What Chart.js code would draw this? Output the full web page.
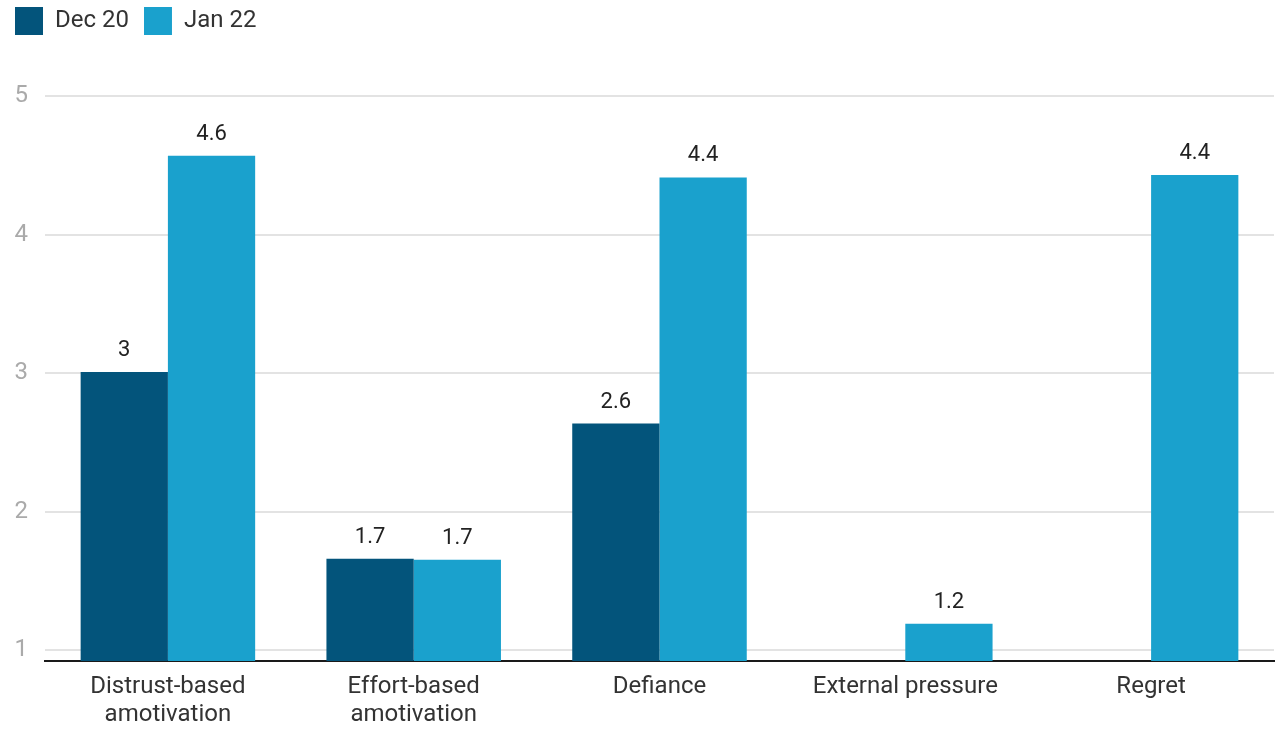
<!DOCTYPE html>
<html>
<head>
<meta charset="utf-8">
<script src="https://cdn.jsdelivr.net/npm/chart.js@4/dist/chart.umd.min.js"></script>
<style>
  html, body { margin: 0; padding: 0; background: #ffffff; }
  #wrap { width: 1279px; height: 730px; }
</style>
</head>
<body>
<div id="wrap"><canvas id="chart" width="1279" height="730"></canvas></div>
<script>
// Motivation factor scores by survey wave
const categories = [
  ['Distrust-based', 'amotivation'],
  ['Effort-based', 'amotivation'],
  'Defiance',
  'External pressure',
  'Regret'
];
const seriesNames = ['Dec 20', 'Jan 22'];
const dec20 = [3.007, 1.659, 2.635, null, null];
const jan22 = [4.568, 1.652, 4.412, 1.19, 4.429];
const yTicks = [1, 2, 3, 4, 5];

const colors = ['#03547b', '#1aa1cd'];
const fontFamily = 'Roboto, "Open Sans", sans-serif';

// Value labels above each bar, one decimal, trailing zero dropped
const valueLabels = {
  id: 'valueLabels',
  afterDatasetsDraw(chart) {
    const ctx = chart.ctx;
    ctx.save();
    ctx.font = '22px ' + fontFamily;
    ctx.fillStyle = '#222222';
    ctx.textAlign = 'center';
    ctx.textBaseline = 'alphabetic';
    chart.data.datasets.forEach((ds, i) => {
      const meta = chart.getDatasetMeta(i);
      meta.data.forEach((bar, j) => {
        const v = ds.data[j];
        if (v === null || v === undefined) return;
        const text = String(Number(v.toFixed(1)));
        ctx.fillText(text, bar.x, bar.y - 16);
      });
    });
    ctx.restore();
  }
};

// Extra room below the legend
const legendSpace = {
  id: 'legendSpace',
  beforeInit(chart) {
    const fit = chart.legend.fit;
    chart.legend.fit = function () {
      fit.bind(chart.legend)();
      this.height += 51;
    };
  }
};

new Chart(document.getElementById('chart'), {
  type: 'bar',
  data: {
    labels: categories,
    datasets: [
      { label: seriesNames[0], data: dec20, backgroundColor: colors[0], borderWidth: 0 },
      { label: seriesNames[1], data: jan22, backgroundColor: colors[1], borderWidth: 0 }
    ]
  },
  options: {
    responsive: false,
    animation: false,
    layout: { padding: { left: 0, right: 5, top: -8, bottom: 0 } },
    datasets: { bar: { categoryPercentage: 0.71, barPercentage: 1.0 } },
    plugins: {
      legend: {
        position: 'top',
        align: 'start',
        labels: {
          boxWidth: 28,
          boxHeight: 28,
          padding: 15,
          color: '#333333',
          font: { family: fontFamily, size: 24 }
        }
      },
      tooltip: { enabled: false }
    },
    scales: {
      x: {
        afterFit(scale) { scale.height = 69; },
        grid: { display: false },
        border: { display: true, color: '#1a1a1a', width: 2 },
        ticks: {
          color: '#333333',
          padding: 4,
          maxRotation: 0,
          autoSkip: false,
          font: { family: fontFamily, size: 24, lineHeight: 1.17 }
        }
      },
      y: {
        min: 0.921,
        max: 5,
        afterBuildTicks(scale) {
          scale.ticks = yTicks.map(v => ({ value: v }));
        },
        afterFit(scale) { scale.width = 45; },
        grid: { color: '#e3e3e3', lineWidth: 2, drawTicks: false },
        border: { display: false },
        ticks: {
          color: '#aaaaaa',
          padding: 17,
          font: { family: fontFamily, size: 24 }
        }
      }
    }
  },
  plugins: [valueLabels, legendSpace]
});
</script>
</body>
</html>
